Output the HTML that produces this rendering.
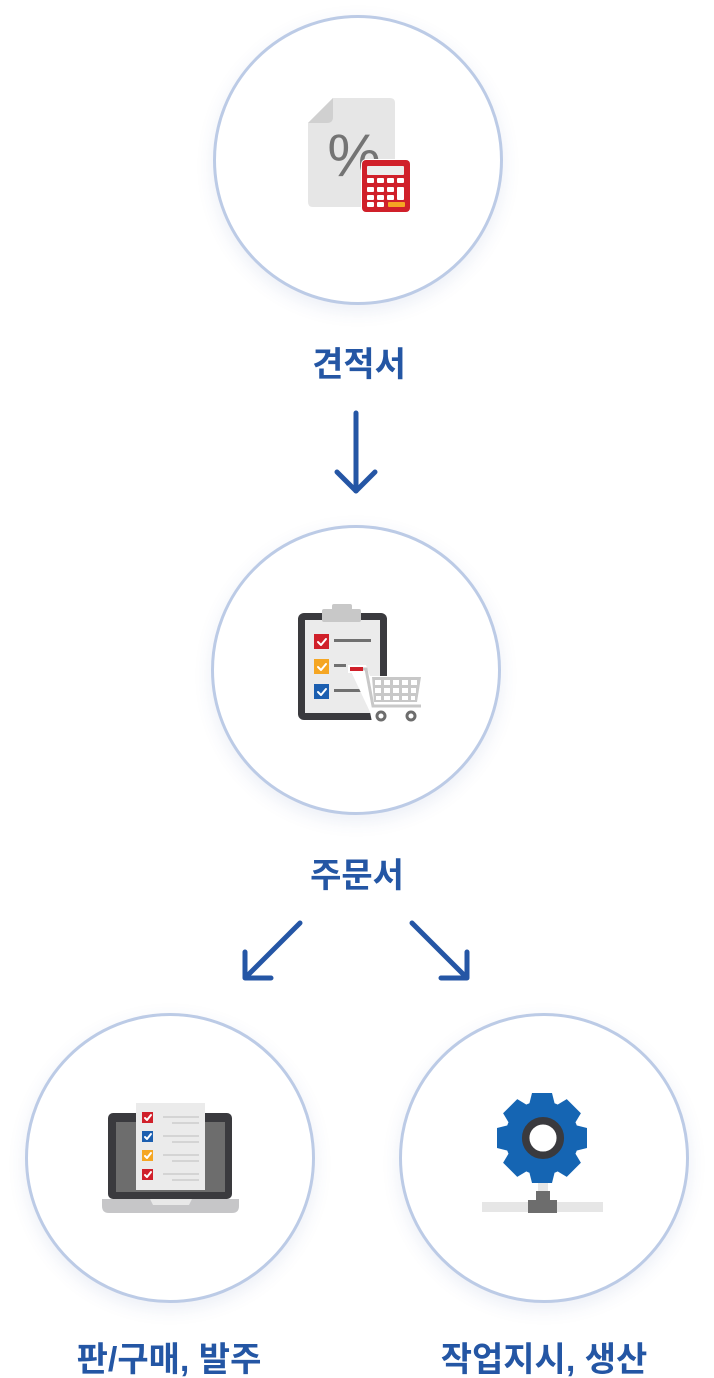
<!DOCTYPE html>
<html><head><meta charset="utf-8">
<style>
html,body{margin:0;padding:0;background:#fff;}
body{width:714px;height:1378px;position:relative;overflow:hidden;}
.c{position:absolute;width:290px;height:290px;box-sizing:border-box;border:3px solid #bccbe6;border-radius:50%;background:#fff;box-shadow:0 6px 18px rgba(60,90,170,0.10);}
svg{position:absolute;left:0;top:0;}
.t{font-family:"Liberation Sans","Noto Sans CJK KR",sans-serif;font-weight:700;font-size:34px;fill:#2456a4;letter-spacing:0px;}
</style></head><body>
<div class="c" style="left:213px;top:15px"></div>
<div class="c" style="left:211px;top:525px"></div>
<div class="c" style="left:25px;top:1013px"></div>
<div class="c" style="left:399px;top:1013px"></div>
<svg width="714" height="1378" viewBox="0 0 714 1378">
<!-- Icon 1: document + calculator -->
<path d="M333 98 L390 98 Q395 98 395 103 L395 202 Q395 207 390 207 L313 207 Q308 207 308 202 L308 123 Z" fill="#e6e6e6"/>
<path d="M308 123 L333 98 L333 117 Q333 123 327 123 Z" fill="#d0d0d0"/>
<text x="354" y="176" text-anchor="middle" font-family="Liberation Sans, sans-serif" font-size="60" fill="#747474">%</text>
<rect x="361" y="159" width="50" height="54" rx="5" fill="#fff"/>
<rect x="362" y="160" width="48" height="52" rx="4" fill="#d0202a"/>
<rect x="367" y="166" width="37" height="9" rx="1" fill="#ececec"/>
<g fill="#fff">
<rect x="367" y="178" width="7" height="5" rx="1"/><rect x="377" y="178" width="7" height="5" rx="1"/><rect x="387" y="178" width="7" height="5" rx="1"/><rect x="397" y="178" width="7" height="5" rx="1"/>
<rect x="367" y="187" width="7" height="5" rx="1"/><rect x="377" y="187" width="7" height="5" rx="1"/><rect x="387" y="187" width="7" height="5" rx="1"/><rect x="397" y="187" width="7" height="13" rx="1"/>
<rect x="367" y="195" width="7" height="5" rx="1"/><rect x="377" y="195" width="7" height="5" rx="1"/><rect x="387" y="195" width="7" height="5" rx="1"/>
<rect x="367" y="202" width="7" height="5" rx="1"/><rect x="377" y="202" width="7" height="5" rx="1"/>
</g>
<rect x="388" y="202" width="17" height="5" rx="1" fill="#f5a623"/>

<!-- Icon 2: clipboard + cart -->
<rect x="298" y="613" width="89" height="107" rx="6" fill="#3a3a3e"/>
<rect x="305" y="620" width="75" height="93" fill="#ebebeb"/>
<rect x="322" y="609" width="39" height="13" rx="2" fill="#c8c8c8"/>
<rect x="332" y="604" width="20" height="8" rx="2" fill="#c8c8c8"/>
<rect x="314" y="634" width="15" height="15" fill="#d0202a"/>
<rect x="314" y="659" width="15" height="15" fill="#f5a623"/>
<rect x="314" y="684" width="15" height="15" fill="#1c5fb0"/>
<g fill="none" stroke="#fff" stroke-width="2" stroke-linecap="round" stroke-linejoin="round">
<polyline points="318,642 321,645 326,639"/><polyline points="318,667 321,670 326,664"/><polyline points="318,692 321,695 326,689"/>
</g>
<rect x="334" y="639" width="37" height="3" fill="#707070"/>
<rect x="334" y="664" width="12" height="3" fill="#707070"/>
<rect x="334" y="689" width="32" height="3" fill="#707070"/>
<!-- cart with white outline -->
<path d="M348 665 L366 665 L370 676 L424 676 L421 704 L424 704 L424 722 L372 722 L370 712 Z" fill="#fff"/>
<rect x="348" y="665" width="17" height="8" fill="#fff"/>
<rect x="350" y="667" width="13" height="4" fill="#d0202a"/>
<polyline points="363,669 366,669 373,706 421,706" fill="none" stroke="#c8c8c8" stroke-width="3"/>
<polygon points="372,677 421,677 417,702 374,702" fill="#c8c8c8"/>
<g fill="#fff">
<rect x="375" y="680" width="6" height="5"/><rect x="384" y="680" width="6" height="5"/><rect x="393" y="680" width="6" height="5"/><rect x="402" y="680" width="6" height="5"/><rect x="411" y="680" width="6" height="5"/>
<rect x="375" y="688" width="6" height="5"/><rect x="384" y="688" width="6" height="5"/><rect x="393" y="688" width="6" height="5"/><rect x="402" y="688" width="6" height="5"/><rect x="411" y="688" width="5" height="5"/>
<rect x="376" y="696" width="5" height="4"/><rect x="384" y="696" width="6" height="4"/><rect x="393" y="696" width="6" height="4"/><rect x="402" y="696" width="6" height="4"/><rect x="411" y="696" width="4" height="4"/>
</g>
<circle cx="381" cy="716" r="4" fill="#fff" stroke="#6d6d6d" stroke-width="3"/>
<circle cx="411" cy="716" r="4" fill="#fff" stroke="#6d6d6d" stroke-width="3"/>

<!-- Icon 3: laptop -->
<rect x="108" y="1113" width="124" height="86" rx="5" fill="#3a3a3e"/>
<rect x="116" y="1122" width="109" height="70" fill="#6d6d6d"/>
<path d="M102 1199 L239 1199 L239 1206 Q239 1213 232 1213 L109 1213 Q102 1213 102 1206 Z" fill="#c6c6c8"/>
<polygon points="150,1199 192,1199 189,1205 153,1205" fill="#e8e8e8"/>
<rect x="136" y="1103" width="69" height="87" fill="#ebebeb"/>
<rect x="142" y="1112" width="11" height="11" fill="#d0202a"/>
<rect x="142" y="1131" width="11" height="11" fill="#1c5fb0"/>
<rect x="142" y="1150" width="11" height="11" fill="#f5a623"/>
<rect x="142" y="1169" width="11" height="11" fill="#d0202a"/>
<g fill="none" stroke="#fff" stroke-width="2" stroke-linecap="round" stroke-linejoin="round">
<polyline points="145,1118 147,1120 151,1115"/><polyline points="145,1137 147,1139 151,1134"/><polyline points="145,1156 147,1158 151,1153"/><polyline points="145,1175 147,1177 151,1172"/>
</g>
<g fill="#d4d4d4">
<rect x="163" y="1116" width="36" height="2"/><rect x="172" y="1122" width="27" height="2"/>
<rect x="163" y="1135" width="36" height="2"/><rect x="172" y="1141" width="27" height="2"/>
<rect x="163" y="1154" width="36" height="2"/><rect x="172" y="1160" width="27" height="2"/>
<rect x="163" y="1173" width="36" height="2"/><rect x="172" y="1179" width="27" height="2"/>
</g>

<!-- Icon 4: gear -->
<rect x="538" y="1178" width="10" height="15" fill="#e6e6e6"/>
<rect x="482" y="1202" width="121" height="10" fill="#e6e6e6"/>
<rect x="536" y="1191" width="14" height="10" fill="#6d6d6d"/>
<rect x="528" y="1200" width="29" height="13" fill="#6d6d6d"/>
<g fill="#1565b3">
<circle cx="542" cy="1138" r="37"/>
<polygon points="529,1105 532,1093 552,1093 555,1105"/>
<polygon points="529,1105 532,1093 552,1093 555,1105" transform="rotate(45 542 1138)"/>
<polygon points="529,1105 532,1093 552,1093 555,1105" transform="rotate(90 542 1138)"/>
<polygon points="529,1105 532,1093 552,1093 555,1105" transform="rotate(135 542 1138)"/>
<polygon points="529,1105 532,1093 552,1093 555,1105" transform="rotate(180 542 1138)"/>
<polygon points="529,1105 532,1093 552,1093 555,1105" transform="rotate(225 542 1138)"/>
<polygon points="529,1105 532,1093 552,1093 555,1105" transform="rotate(270 542 1138)"/>
<polygon points="529,1105 532,1093 552,1093 555,1105" transform="rotate(315 542 1138)"/>
</g>
<circle cx="543" cy="1138" r="17.3" fill="#fff" stroke="#3a3a3e" stroke-width="7.5"/>

<!-- Arrows -->
<g fill="none" stroke="#2556a5" stroke-width="5" stroke-linecap="round" stroke-linejoin="round">
<line x1="356" y1="413" x2="356" y2="491"/>
<polyline points="337,472 356,491 375,472"/>
<line x1="300" y1="923" x2="246" y2="977"/>
<polyline points="245,952 245,978 271,978"/>
<line x1="412" y1="923" x2="466" y2="977"/>
<polyline points="467,952 467,978 441,978"/>
</g>

<!-- Labels -->
<text class="t" x="359" y="376" text-anchor="middle">견적서</text>
<text class="t" x="357" y="887" text-anchor="middle">주문서</text>
<text class="t" x="169" y="1371" text-anchor="middle">판/구매, 발주</text>
<text class="t" x="544" y="1371" text-anchor="middle">작업지시, 생산</text>
</svg>
</body></html>
